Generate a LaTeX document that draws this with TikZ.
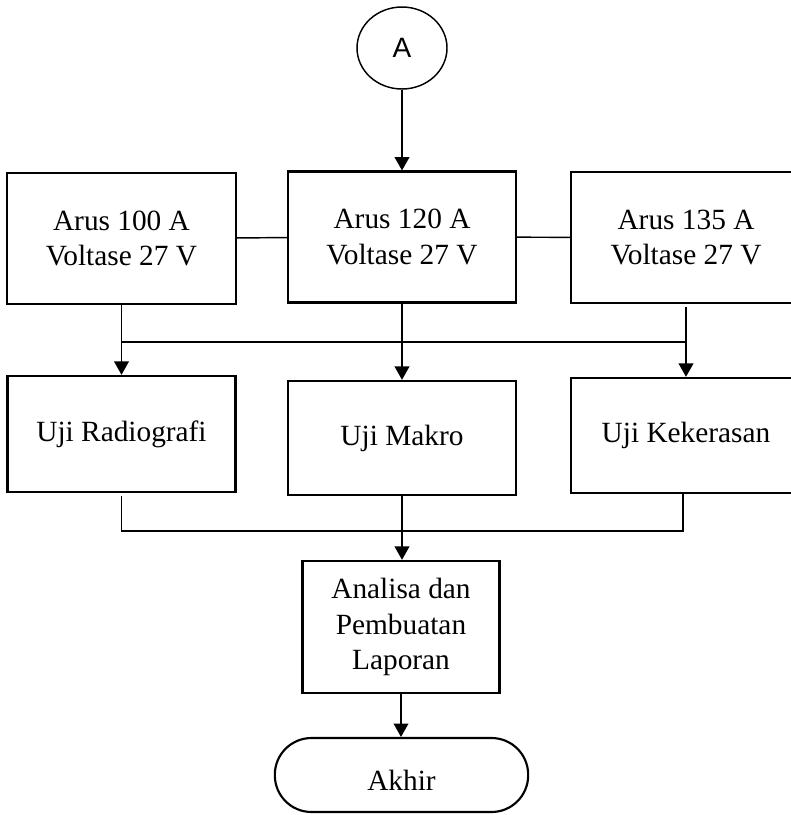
\documentclass[tikz,border=0pt]{standalone}
\usepackage{fontspec}
\setmainfont{Liberation Serif}
\newfontfamily\labelsans{Liberation Sans}
\usetikzlibrary{shapes.geometric,arrows.meta}
\begin{document}
\begin{tikzpicture}[
  x=0.75pt, y=-0.75pt,
  pbox/.style={rectangle, draw=black, line width=1.8pt, fill=white, align=center, inner sep=0,
               font=\fontsize{22}{26.5}\selectfont},
  cnode/.style={ellipse, draw=black, line width=1.1pt, minimum width=67.5pt, minimum height=61.5pt,
                inner sep=0, font=\labelsans\fontsize{21}{24}\selectfont},
  tnode/.style={rectangle, rounded corners=27.5pt, draw=black, line width=1.6pt,
                minimum width=190pt, minimum height=55.5pt, inner sep=0,
                font=\fontsize{22}{26.5}\selectfont},
  flow/.style={draw=black, line width=1.1pt, -{Triangle[length=10pt,width=11pt]}},
  link/.style={draw=black, line width=1.1pt}
]
\useasboundingbox (0,0) rectangle (791,815);
\node[cnode] (conA) at (402,48) {A};
% three welding settings
\foreach \n/\cx/\cy/\w/\amp in {1/121.5/238.5/229/100, 2/402/237/228/120, 3/686/237.5/230/135}{
  \node[pbox, minimum width=0.75pt*\w, minimum height=98pt] (arus\n) at (\cx,\cy) {Arus \amp\ A\\Voltase 27 V};
}
% three tests
\node[pbox, minimum width=171pt, minimum height=87pt] (uji1) at (121.5,434) {Uji Radiografi};
\node[pbox, minimum width=171pt, minimum height=85.5pt] (uji2) at (402,438) {Uji Makro};
\node[pbox, minimum width=172.5pt, minimum height=86.25pt] (uji3) at (686,435.5) {Uji Kekerasan};
\node[pbox, minimum width=147.75pt, minimum height=99pt] (anl) at (401,627) {Analisa dan\\Pembuatan\\Laporan};
\node[tnode, text height=22.5pt, text depth=0pt] (akhir) at (401.5,775) {Akhir};
\draw[flow] (conA) -- (arus2);
\draw[link] (arus1) -- (arus2);
\draw[link] (arus2) -- (arus3);
\coordinate (splitL) at (arus1.south |- 0,342);
\coordinate (splitR) at (arus3.south |- 0,342);
\draw[link] (arus1.south) -- (splitL);
\draw[link] (splitL) -- (splitR);
\draw[flow] (splitL) -- (uji1.north);
\draw[flow] (arus2.south) -- (uji2.north);
\draw[link] ([yshift=-2pt]arus3.south) -- (splitR);
\draw[flow] (splitR) -- (uji3.north);
\coordinate (joinL) at (uji1.south |- 0,531);
\coordinate (joinR) at (683,531);
\draw[link] ([yshift=-2pt]uji1.south) -- (joinL) -- (joinR) -- (joinR |- uji3.south);
\draw[flow] (uji2.south) -- (uji2.south |- anl.north);
\draw[flow] (anl.south) -- (anl.south |- akhir.north);
\end{tikzpicture}
\end{document}
